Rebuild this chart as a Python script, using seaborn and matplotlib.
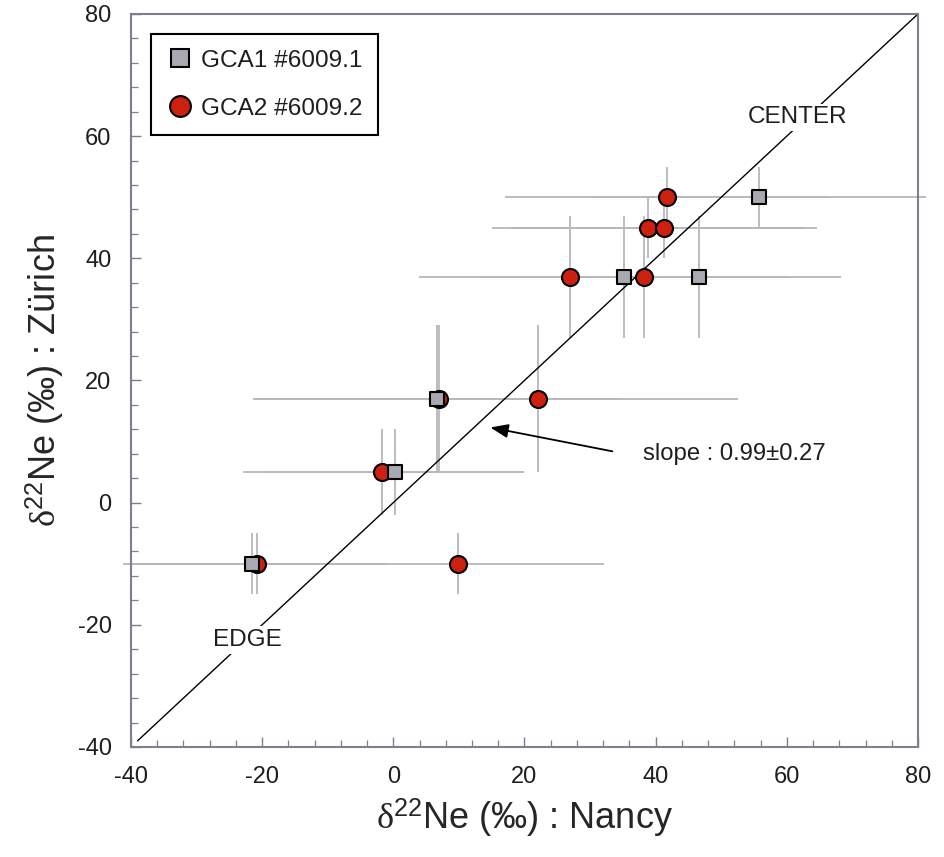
import numpy as np
import pandas as pd
import matplotlib
matplotlib.use("Agg")
import matplotlib.pyplot as plt
import seaborn as sns
from matplotlib.lines import Line2D
from matplotlib.ticker import MultipleLocator

# ---- data ----
gca1_x = [55.7, 35.1, 46.6, 6.6, 0.2, -21.5]
gca1_y = [50, 37, 37, 17, 5, -10]
gca1_xerr = [25.5, 22.0, 21.6, 28.0, 19.8, 19.7]
gca1_yerr = [5, 10, 10, 12, 7, 5]

gca2_x = [41.8, 38.9, 41.2, 26.9, 38.2, 6.9, 22.0, -1.7, -20.8, 9.9]
gca2_y = [50, 45, 45, 37, 37, 17, 17, 5, -10, -10]
gca2_xerr = [24.7, 23.8, 23.4, 23.0, 22.0, 28.0, 30.5, 21.2, 20.0, 22.2]
gca2_yerr = [5, 5, 5, 10, 10, 12, 12, 7, 5, 5]

line_x = [-39, 80]
line_y = [-39, 80]

labels = ["GCA1 #6009.1", "GCA2 #6009.2"]
axis_ticks = [-40, -20, 0, 20, 40, 60, 80]

df1 = pd.DataFrame({"x": gca1_x, "y": gca1_y})
df2 = pd.DataFrame({"x": gca2_x, "y": gca2_y})

sns.set_theme(style="white")
plt.rcParams["font.family"] = ["Liberation Sans", "DejaVu Sans"]
plt.rcParams["axes.unicode_minus"] = False
plt.rcParams["mathtext.fontset"] = "custom"
plt.rcParams["mathtext.rm"] = "Liberation Serif"
plt.rcParams["mathtext.sf"] = "Liberation Sans"
plt.rcParams["mathtext.it"] = "Liberation Serif:italic"

fig = plt.figure(figsize=(9.45, 8.57), dpi=100)
ax = fig.add_axes([0.1386, 0.1284, 0.8328, 0.8553])

err_color = "#B8B8BC"
red = "#CC2010"
gray = "#A9A9B1"
spine_c = "#7E7E8C"

# error bars
ax.errorbar(gca2_x, gca2_y, xerr=gca2_xerr, yerr=gca2_yerr, fmt="none",
            ecolor=err_color, elinewidth=1.3, capsize=0, clip_on=False, zorder=1)
ax.errorbar(gca1_x, gca1_y, xerr=gca1_xerr, yerr=gca1_yerr, fmt="none",
            ecolor=err_color, elinewidth=1.3, capsize=0, clip_on=False, zorder=1)

# 1:1 line
ax.plot(line_x, line_y, color="black", lw=1.0, zorder=2)

# points
sns.scatterplot(data=df2, x="x", y="y", ax=ax, marker="o", s=150, color=red,
                edgecolor="black", linewidth=1.5, zorder=3, legend=False, clip_on=False)
sns.scatterplot(data=df1, x="x", y="y", ax=ax, marker="s", s=90, color=gray,
                edgecolor="black", linewidth=1.5, zorder=4, legend=False, clip_on=False)

ax.set_xlim(-40, 80)
ax.set_ylim(-40, 80)
ax.set_xticks(axis_ticks)
ax.set_yticks(axis_ticks)
ax.xaxis.set_minor_locator(MultipleLocator(4))
ax.yaxis.set_minor_locator(MultipleLocator(4))
ax.tick_params(axis="both", which="major", direction="in", length=7, width=1.0,
               color=spine_c, labelsize=17, pad=14, top=False, right=False,
               bottom=True, left=True, labelcolor="#1e1e1e")
ax.tick_params(axis="both", which="minor", direction="in", length=5, width=0.9,
               color=spine_c, top=False, right=False, bottom=True, left=True)
for s in ax.spines.values():
    s.set_color(spine_c)
    s.set_linewidth(1.5)

ax.set_xlabel(r"$\mathrm{\delta}^{\mathsf{22}}$Ne (‰) : Nancy", fontsize=26, labelpad=6)
ax.set_ylabel(r"$\mathrm{\delta}^{\mathsf{22}}$Ne (‰) : Zürich", fontsize=26, labelpad=8)

# annotations
box = dict(facecolor="white", edgecolor="none", pad=2)
ax.text(-22.3, -22.5, "EDGE", fontsize=17.5, ha="center", va="center", bbox=box,
        zorder=2.5, color="#1e1e1e")
ax.text(61.7, 63.1, "CENTER", fontsize=17.5, ha="center", va="center", bbox=box,
        zorder=2.5, color="#1e1e1e")
ax.annotate("", xy=(14.8, 12.3), xytext=(33.4, 8.4),
            arrowprops=dict(arrowstyle="-|>,head_length=0.9,head_width=0.35",
                            color="black", lw=1.3, shrinkA=0, shrinkB=0), zorder=5)
ax.text(38.0, 7.9, "slope : 0.99±0.27", fontsize=17.2, ha="left", va="center",
        color="#1e1e1e")

handles = [
    Line2D([], [], marker="s", ls="none", markersize=13, markerfacecolor=gray,
           markeredgecolor="black", markeredgewidth=1.5),
    Line2D([], [], marker="o", ls="none", markersize=15, markerfacecolor=red,
           markeredgecolor="black", markeredgewidth=1.5),
]
leg = ax.legend(handles, labels, loc="upper left", bbox_to_anchor=(0.025, 0.973),
                fontsize=17.6, frameon=True, fancybox=False, framealpha=1,
                edgecolor="black", handletextpad=0.3, borderpad=0.65,
                labelspacing=1.05, handlelength=1.1, borderaxespad=0)
leg.get_frame().set_linewidth(1.5)
for t in leg.get_texts():
    t.set_color("#1e1e1e")

fig.savefig("out.png", dpi=100)
